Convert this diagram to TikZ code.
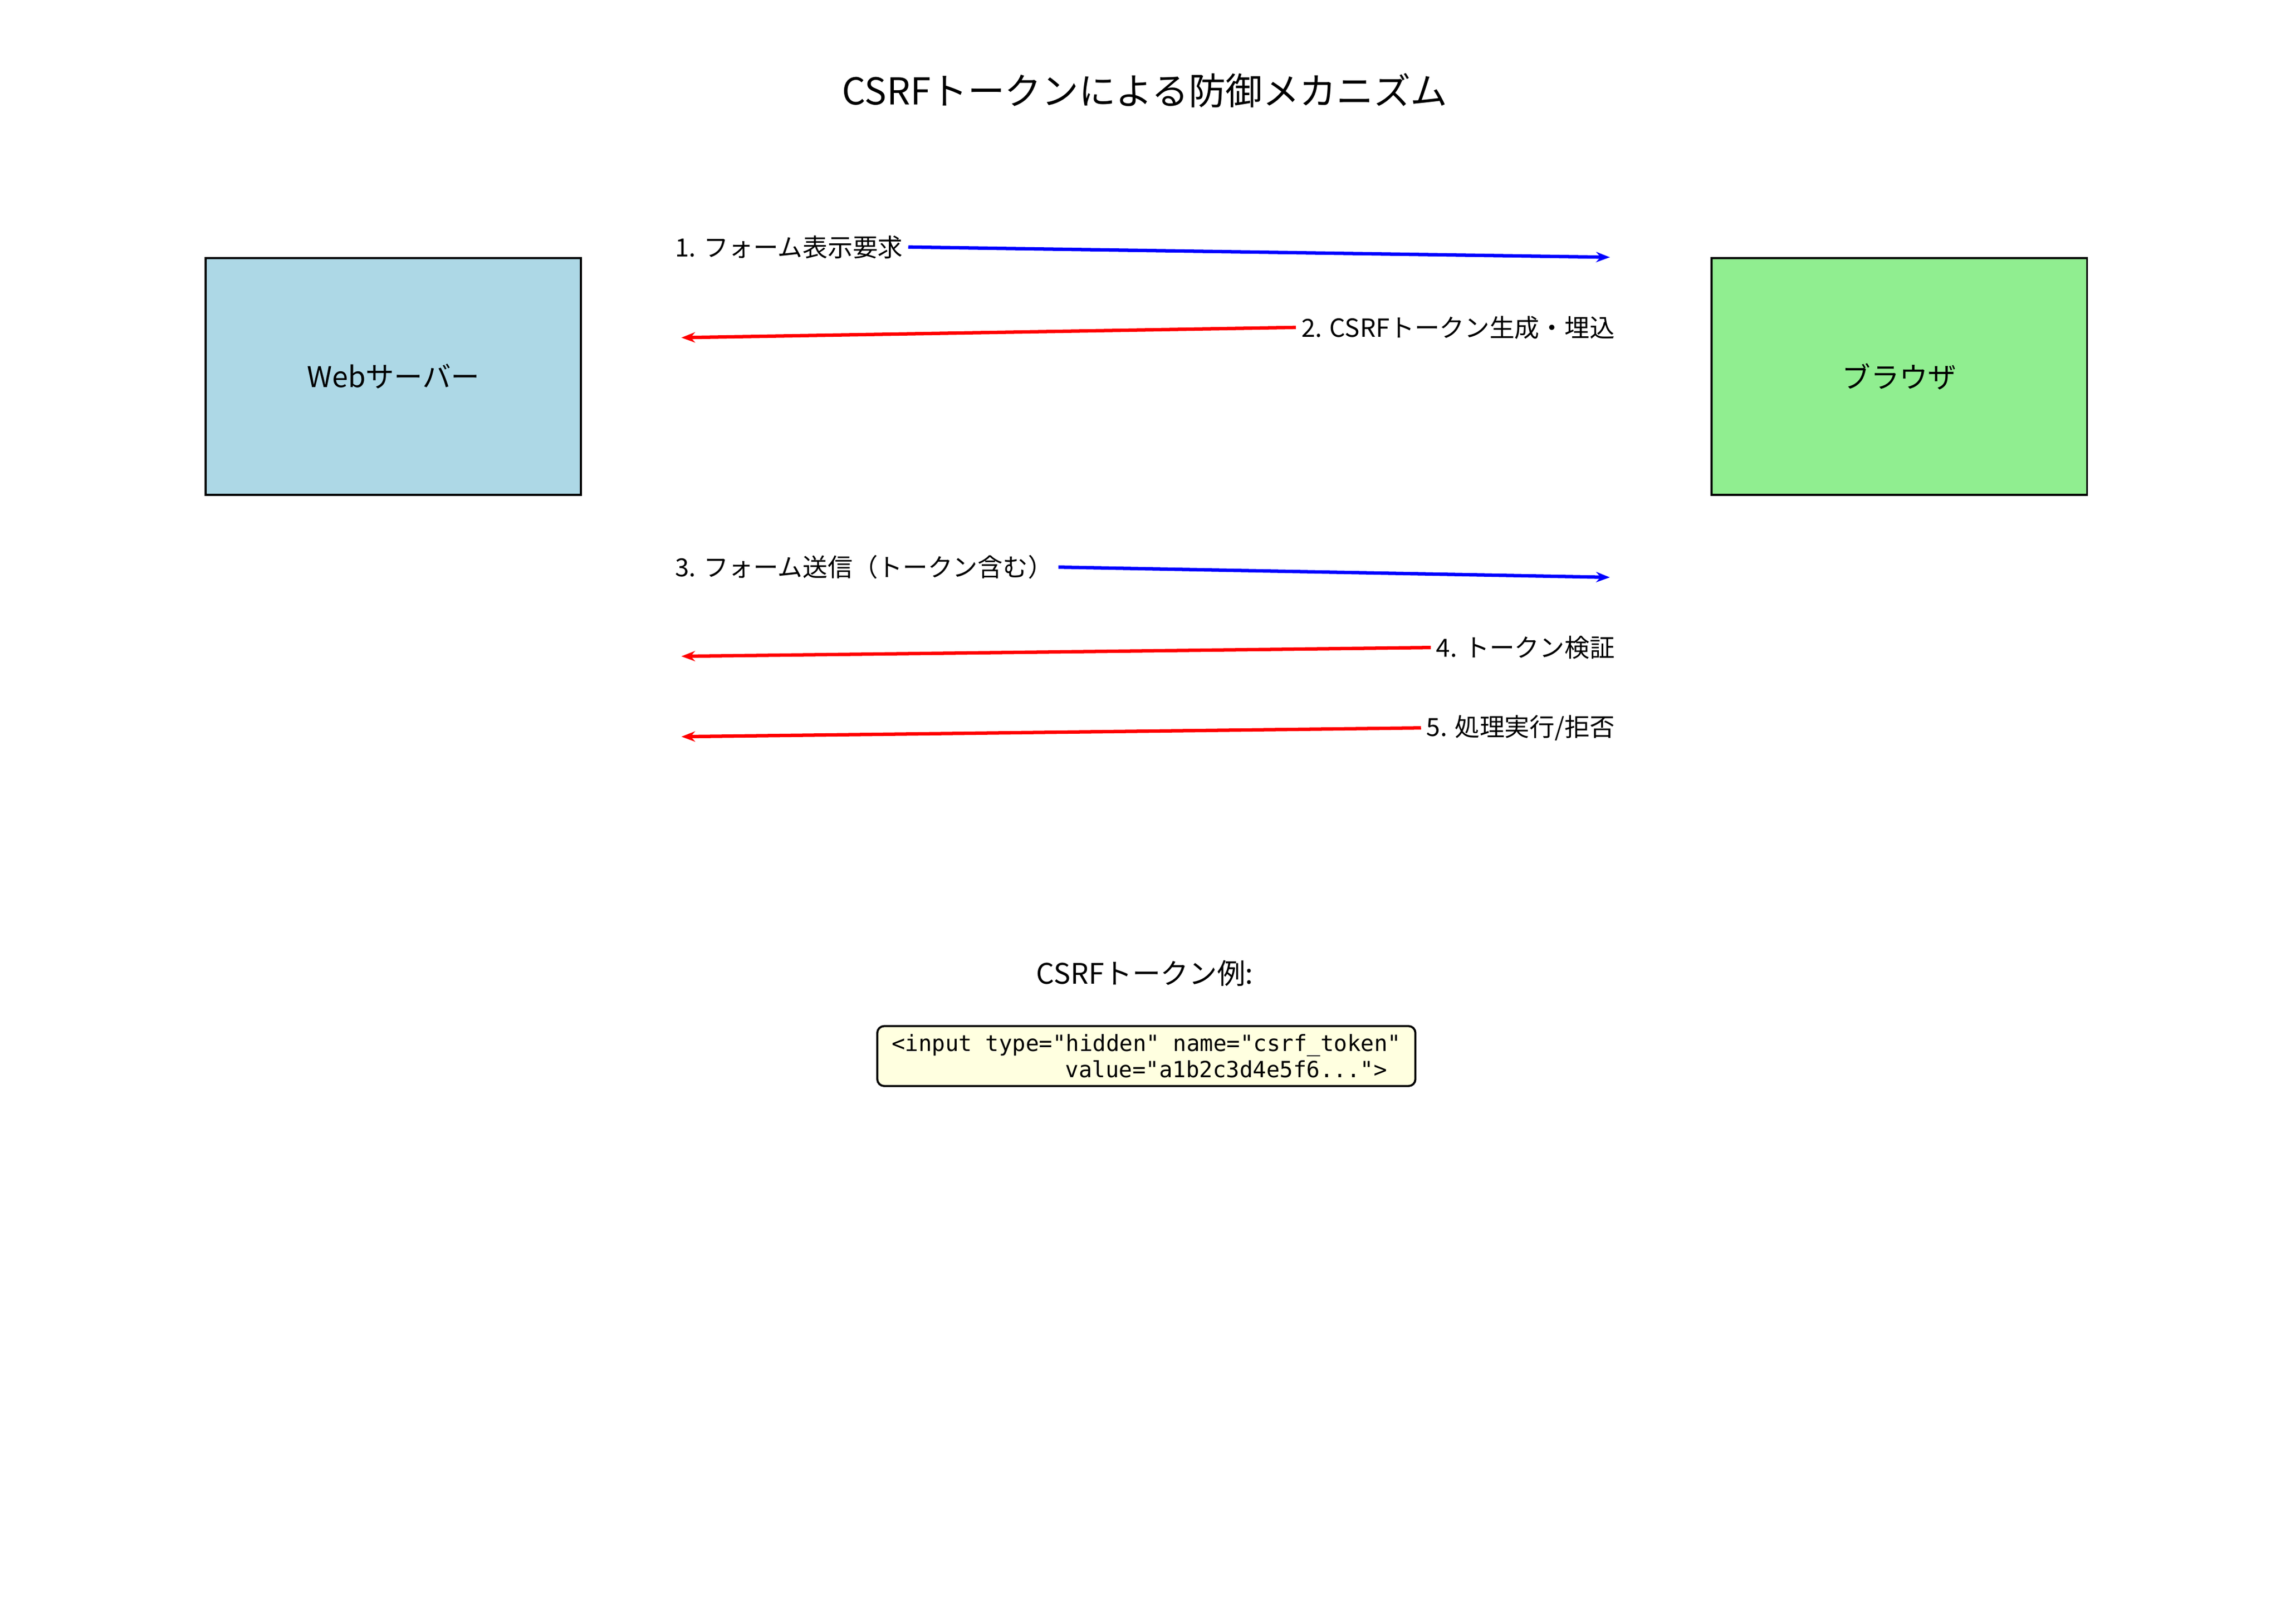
\documentclass[tikz,border=0pt]{standalone}
\usepackage{fontspec}
\setmainfont{Noto Sans CJK JP}
\newfontfamily\codefont{DejaVu Sans Mono}
\usetikzlibrary{arrows.meta}
\definecolor{srvblue}{RGB}{173,216,230}
\definecolor{brwgreen}{RGB}{144,238,144}
\definecolor{codeyellow}{RGB}{255,255,224}
\tikzset{
  party/.style = {draw=black, line width=1.2pt, minimum width=7.7cm, minimum height=4.86cm, font=\fontsize{16.7}{20}\selectfont},
  msg/.style = {font=\fontsize{14.6}{17}\selectfont, inner sep=3pt},
  flow/.style = {line width=2pt, -{Stealth[length=8pt,width=6pt]}},
}
\begin{document}
\begin{tikzpicture}[x=0.03cm, y=-0.03cm]
\useasboundingbox (0,0) rectangle (1560,1111);

\node (title) at (783,62) {\fontsize{21.6}{25}\selectfont CSRFトークンによる防御メカニズム};

\node[party, fill=srvblue] (server) at (269,257.5) {Webサーバー};
\node[party, fill=brwgreen] (browser) at (1299,257.5) {ブラウザ};

% request / response messages
\node[msg, anchor=west] (m1) at (458,169) {1. フォーム表示要求};
\coordinate (e1) at (1101,176);
\draw[flow, blue] (m1.east) -- (e1);

\node[msg, anchor=east] (m2) at (1108,224) {2. CSRFトークン生成・埋込};
\coordinate (e2) at (466,231);
\draw[flow, red] (m2.west) -- (e2);

\node[msg, anchor=west] (m3) at (458,388) {3. フォーム送信（トークン含む）};
\coordinate (e3) at (1101,395);
\draw[flow, blue] (m3.east) -- (e3);

\node[msg, anchor=east] (m4) at (1108,443) {4. トークン検証};
\coordinate (e4) at (466,449);
\draw[flow, red] (m4.west) -- (e4);

\node[msg, anchor=east] (m5) at (1108,498) {5. 処理実行/拒否};
\coordinate (e5) at (466,504);
\draw[flow, red] (m5.west) -- (e5);

% token example
\node (example) at (783,666) {\fontsize{16.5}{20}\selectfont CSRFトークン例:};
\node[draw=black, line width=1.2pt, rounded corners=4pt, fill=codeyellow, align=left,
  minimum width=11.04cm, minimum height=1.23cm, inner sep=3pt, font=\codefont\fontsize{13}{15.5}\selectfont] (code) at (784,722.5)
  {<input type="hidden" name="csrf\_token"\\
  \hspace*{7.8em}value="a1b2c3d4e5f6...">};

\end{tikzpicture}
\end{document}
